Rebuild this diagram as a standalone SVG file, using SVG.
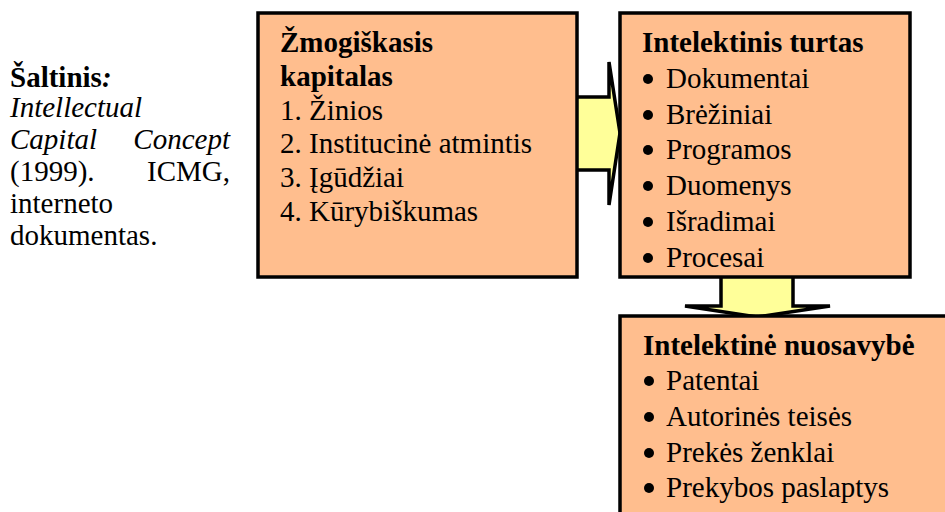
<svg xmlns="http://www.w3.org/2000/svg" width="945" height="512" viewBox="0 0 945 512">
  <style>
    .box { fill: #FFBE8E; stroke: #000; stroke-width: 3.5; }
    .arrow { fill: #FFFF99; stroke: #000; stroke-width: 3.5; stroke-linejoin: miter; }
    .t { font-family: 'Liberation Serif', 'Times New Roman', Times, serif; font-size: 29px; fill: #000; }
    .b { font-weight: bold; }
    .i { font-style: italic; }
    .dot { fill: #000; }
  </style>

  <!-- source note -->
  <g id="source" class="t" font-family="Liberation Serif, serif">
    <text x="10" y="87" class="b">Šaltinis<tspan class="i">:</tspan></text>
    <text x="10" y="117" class="i">Intellectual</text>
    <text x="10" y="149" class="i">Capital</text>
    <text x="230" y="149" class="i" text-anchor="end">Concept</text>
    <text x="10" y="181">(1999).</text>
    <text x="230" y="181" text-anchor="end">ICMG,</text>
    <text x="10" y="213">interneto</text>
    <text x="10" y="245">dokumentas.</text>
  </g>

  <!-- connectors -->
  <g id="connectors">
    <path class="arrow" d="M570,97 H609 V62 L620,133 L609,205 V170 H570 Z"/>
    <path class="arrow" d="M721,270 V306 H685 L757,317 L830,306 H793 V270 Z"/>
  </g>

  <!-- human capital -->
  <g id="human-capital" class="t" font-family="Liberation Serif, serif">
    <rect class="box" x="258" y="13" width="319" height="264"/>
    <text x="280" y="52" class="b">Žmogiškasis</text>
    <text x="280" y="86" class="b">kapitalas</text>
    <text x="280" y="120">1. Žinios</text>
    <text x="280" y="153">2. Institucinė atmintis</text>
    <text x="280" y="187">3. Įgūdžiai</text>
    <text x="280" y="221">4. Kūrybiškumas</text>
  </g>

  <!-- intellectual assets -->
  <g id="intellectual-assets" class="t" font-family="Liberation Serif, serif">
    <rect class="box" x="620" y="13" width="290" height="264"/>
    <text x="642" y="52" class="b">Intelektinis turtas</text>
    <circle class="dot" cx="648" cy="79" r="5"/>
    <text x="666" y="88">Dokumentai</text>
    <circle class="dot" cx="648" cy="115" r="5"/>
    <text x="666" y="124">Brėžiniai</text>
    <circle class="dot" cx="648" cy="150" r="5"/>
    <text x="666" y="159">Programos</text>
    <circle class="dot" cx="648" cy="186" r="5"/>
    <text x="666" y="195">Duomenys</text>
    <circle class="dot" cx="648" cy="222" r="5"/>
    <text x="666" y="231">Išradimai</text>
    <circle class="dot" cx="648" cy="258" r="5"/>
    <text x="666" y="267">Procesai</text>
  </g>

  <!-- intellectual property -->
  <g id="intellectual-property" class="t" font-family="Liberation Serif, serif">
    <rect class="box" x="620" y="316" width="340" height="210"/>
    <text x="643" y="355" class="b">Intelektinė nuosavybė</text>
    <circle class="dot" cx="649" cy="381" r="5"/>
    <text x="666" y="390">Patentai</text>
    <circle class="dot" cx="649" cy="417" r="5"/>
    <text x="666" y="426">Autorinės teisės</text>
    <circle class="dot" cx="649" cy="453" r="5"/>
    <text x="666" y="462">Prekės ženklai</text>
    <circle class="dot" cx="649" cy="488" r="5"/>
    <text x="666" y="497">Prekybos paslaptys</text>
  </g>
</svg>
